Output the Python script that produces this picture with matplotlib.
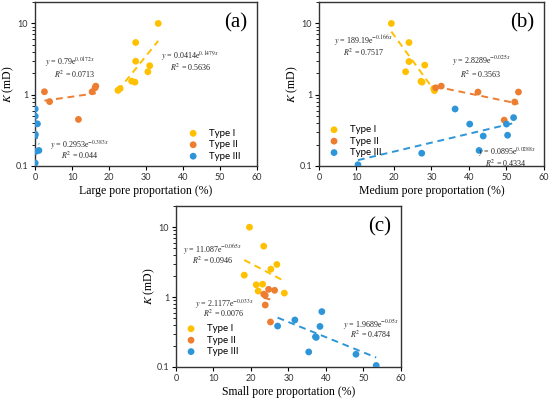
import numpy as np
import matplotlib
matplotlib.use("Agg")
import matplotlib.pyplot as plt
from matplotlib.ticker import LogLocator, FixedLocator, NullFormatter

plt.rcParams['mathtext.fontset'] = 'stix'

# ---------------- data ----------------
types = ["Type I", "Type II", "Type III"]
colors = ["#FFC000", "#ED7D31", "#2E96D8"]

# Panel (a): large pore proportion (%) vs K (mD)
a_x_I = [33.3, 27.2, 27.2, 31.0, 30.5, 26.1, 27.0, 23.0, 22.4]
a_k_I = [10, 5.4, 2.95, 2.55, 2.1, 1.55, 1.5, 1.22, 1.15]
a_x_II = [16.4, 16.2, 15.4, 2.5, 3.9, 11.7]
a_k_II = [1.32, 1.25, 1.1, 1.1, 0.8, 0.45]
a_x_III = [0, 0, 0, 0.6, 0, 0, 1.0, 0.2, 0]
a_k_III = [0.63, 0.5, 0.39, 0.39, 0.28, 0.27, 0.165, 0.16, 0.11]

# Panel (b): medium pore proportion (%)
b_x_I = [19.3, 24.0, 24.0, 28.2, 23.1, 27.2, 27.5, 30.6, 30.8]
b_k_I = [10, 5.4, 2.92, 2.6, 2.1, 1.54, 1.5, 1.22, 1.14]
b_x_II = [32.6, 31.1, 42.4, 53.2, 52.2, 49.4]
b_k_II = [1.32, 1.25, 1.09, 1.09, 0.79, 0.44]
b_x_III = [36.3, 51.9, 40.2, 50.0, 43.8, 50.3, 42.7, 27.4, 10.4]
b_k_III = [0.63, 0.477, 0.387, 0.387, 0.263, 0.27, 0.165, 0.151, 0.104]

# Panel (c): small pore proportion (%)
c_x_I = [19.6, 23.4, 26.9, 25.3, 18.2, 23.1, 21.4, 21.9, 28.9]
c_k_I = [10, 5.35, 2.93, 2.51, 2.06, 1.53, 1.5, 1.22, 1.14]
c_x_II = [24.7, 26.3, 23.4, 23.8, 23.8, 25.2]
c_k_II = [1.29, 1.25, 1.1, 1.06, 0.77, 0.44]
c_x_III = [38.9, 31.7, 27.1, 38.4, 37.2, 37.4, 35.4, 48.0, 53.4]
c_k_III = [0.62, 0.47, 0.385, 0.38, 0.27, 0.265, 0.164, 0.152, 0.105]

# exponential fits y = A e^(B x)
a_fit_A = [0.0414, 0.79, 0.2953]
a_fit_B = [0.1479, 0.0172, -0.383]
b_fit_A = [189.19, 2.8289, 0.0895]
b_fit_B = [-0.166, -0.025, 0.0288]
c_fit_A = [11.087, 2.1177, 1.9689]
c_fit_B = [-0.065, -0.033, -0.05]

a_eq = [r"$y$ = 0.0414e$^{0.1479x}$", r"$y$ = 0.79e$^{0.0172x}$", r"$y$ = 0.2953e$^{-0.383x}$"]
a_r2 = [r"$R^2$ = 0.5636", r"$R^2$ = 0.0713", r"$R^2$ = 0.044"]
b_eq = [r"$y$ = 189.19e$^{-0.166x}$", r"$y$ = 2.8289e$^{-0.025x}$", r"$y$ = 0.0895e$^{0.0288x}$"]
b_r2 = [r"$R^2$ = 0.7517", r"$R^2$ = 0.3563", r"$R^2$ = 0.4334"]
c_eq = [r"$y$ = 11.087e$^{-0.065x}$", r"$y$ = 2.1177e$^{-0.033x}$", r"$y$ = 1.9689e$^{-0.05x}$"]
c_r2 = [r"$R^2$ = 0.0946", r"$R^2$ = 0.0076", r"$R^2$ = 0.4784"]

xlabels = ["Large pore proportation (%)", "Medium pore proportation (%)", "Small pore proportation (%)"]
panel_tags = ["(a)", "(b)", "(c)"]
x_ticks = [0, 10, 20, 30, 40, 50, 60]
y_ticks = [0.1, 1, 10]
y_ticklabels = ["0.1", "1", "10"]

# ---------------- layout ----------------
fig = plt.figure(figsize=(5.5, 3.98), dpi=100)
rects = [
    [0.064, 0.583, 0.403, 0.412],
    [0.580, 0.583, 0.409, 0.412],
    [0.320, 0.078, 0.409, 0.404],
]
# (equation position, R2 position) in data coords, per type
eq_pos = {
    0: [((34.0, 3.35), (36.5, 2.45)), ((2.7, 2.75), (5.2, 1.93)), ((4.0, 0.193), (7.0, 0.139))],
    1: [((4.0, 5.7), (6.3, 4.0)), ((35.4, 2.95), (37.5, 1.93)), ((42.3, 0.156), (44.2, 0.11))],
    2: [((2.0, 4.8), (4.4, 3.38)), ((5.2, 0.8), (7.2, 0.578)), ((44.6, 0.4), (46.5, 0.298))],
}
legend_anchor = [(0.66, 0.02), (0.015, 0.042), (0.015, 0.055)]

panels = [
    ([a_x_I, a_x_II, a_x_III], [a_k_I, a_k_II, a_k_III], a_fit_A, a_fit_B, a_eq, a_r2),
    ([b_x_I, b_x_II, b_x_III], [b_k_I, b_k_II, b_k_III], b_fit_A, b_fit_B, b_eq, b_r2),
    ([c_x_I, c_x_II, c_x_III], [c_k_I, c_k_II, c_k_III], c_fit_A, c_fit_B, c_eq, c_r2),
]

serif = "Liberation Serif"
sans = "Lato"

for p, (xs, ks, fA, fB, eqs, r2s) in enumerate(panels):
    ax = fig.add_axes(rects[p])
    handles = []
    for t in range(3):
        x = np.array(xs[t], dtype=float)
        k = np.array(ks[t], dtype=float)
        h = ax.scatter(x, k, s=24, color=colors[t], edgecolors='none', zorder=3, label=types[t])
        handles.append(h)
        xf = np.linspace(x.min(), x.max(), 50)
        ax.plot(xf, fA[t] * np.exp(fB[t] * xf), linestyle=(0, (3.5, 2.5)), color=colors[t], lw=1.4, zorder=2)
        (ex, ey), (rx, ry) = eq_pos[p][t]
        ax.text(ex, ey, eqs[t], fontsize=5.8, family=serif, color='#222222', va='center', ha='left')
        ax.text(rx, ry, r2s[t], fontsize=5.8, family=serif, color='#222222', va='center', ha='left')
    ax.set_yscale('log')
    ax.set_xlim(0, 60)
    ax.set_ylim(0.1, 20)
    ax.xaxis.set_major_locator(FixedLocator(x_ticks))
    ax.set_xticklabels([str(v) for v in x_ticks], fontsize=6.5, family=sans, color='#333333')
    ax.yaxis.set_major_locator(FixedLocator(y_ticks))
    ax.set_yticklabels(y_ticklabels, fontsize=6.5, family=sans, color='#333333')
    ax.yaxis.set_minor_locator(LogLocator(base=10, subs=np.arange(2, 10)))
    ax.yaxis.set_minor_formatter(NullFormatter())
    ax.tick_params(axis='both', which='major', direction='out', length=3, width=0.8, pad=2)
    ax.tick_params(axis='y', which='minor', direction='out', length=2, width=0.6)
    for s in ax.spines.values():
        s.set_linewidth(1.0)
        s.set_color('#333333')
    ax.set_xlabel(xlabels[p], fontsize=8.5, family=serif, labelpad=2)
    ax.set_ylabel(r"$K$ (mD)", fontsize=8.5, family=serif)
    ax.yaxis.set_label_coords(-0.085, 0.5)
    ax.text(0.955, 0.93, panel_tags[p], transform=ax.transAxes, fontsize=15,
            family=serif, ha='right', va='top')
    ax.legend(handles=handles, loc='lower left', bbox_to_anchor=legend_anchor[p],
              frameon=False, prop={'family': sans, 'size': 7}, handletextpad=0.6,
              labelspacing=0.25, borderaxespad=0.0, borderpad=0.2, markerscale=1.0)

fig.savefig("out.png", dpi=100)
